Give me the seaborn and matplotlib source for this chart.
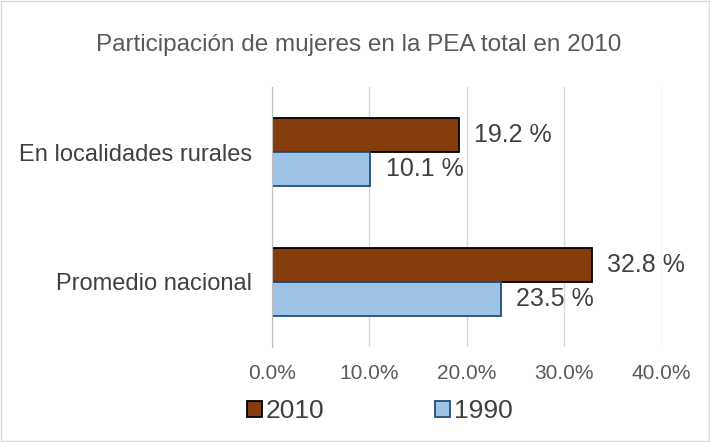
import pandas as pd
import numpy as np
import matplotlib.pyplot as plt
import seaborn as sns
from matplotlib.patches import Rectangle, Patch

# datos
categorias = ['En localidades rurales', 'Promedio nacional']
anios = ['2010', '1990']
valores_2010 = [19.2, 32.8]
valores_1990 = [10.1, 23.5]
ticks = [0, 10, 20, 30, 40]

df = pd.DataFrame({
    'categoria': categorias * 2,
    'anio': [anios[0]] * 2 + [anios[1]] * 2,
    'valor': valores_2010 + valores_1990,
})

sns.set_style('white')
plt.rcParams['font.family'] = ['Liberation Sans', 'DejaVu Sans']

colores = {'2010': '#843C0C', '1990': '#9DC3E6'}
bordes = {'2010': '#000000', '1990': '#1F4E79'}

fig = plt.figure(figsize=(7.1, 4.42), dpi=100)
ax = fig.add_axes([0.383, 0.215, 0.549, 0.588])

sns.barplot(data=df, x='valor', y='categoria', hue='anio', hue_order=anios,
            palette=colores, saturation=1, orient='h', width=0.52, ax=ax,
            legend=False)

for cont, anio in zip(ax.containers, anios):
    for barra in cont:
        barra.set_edgecolor(bordes[anio])
        barra.set_linewidth(1.3)
    ax.bar_label(cont, labels=[f'{v:.1f} %' for v in cont.datavalues],
                 padding=11, fontsize=18, color='#404040')

ax.set_xlim(0, 40)
ax.set_xticks(ticks)
ax.set_xticklabels([f'{t:.1f}%' for t in ticks], fontsize=15, color='#595959')
ax.tick_params(axis='y', labelsize=17, labelcolor='#404040', length=0, pad=14)
ax.tick_params(axis='x', length=0, pad=12)
ax.set_xlabel('')
ax.set_ylabel('')
ax.grid(axis='x', color='#D9D9D9', linewidth=1)
ax.set_axisbelow(True)
for lado in ['top', 'right', 'bottom']:
    ax.spines[lado].set_visible(False)
ax.spines['left'].set_color('#BFBFBF')

fig.text(0.505, 0.898, 'Participación de mujeres en la PEA total en 2010',
         ha='center', va='center', fontsize=17.5, color='#595959')

handles = [Patch(facecolor=colores[a], edgecolor=bordes[a], linewidth=1.3) for a in anios]
fig.legend(handles, anios, loc='center', bbox_to_anchor=(0.535, 0.07), ncol=2,
           frameon=False, fontsize=19, handlelength=0.55, handleheight=0.55,
           handletextpad=0.15, columnspacing=4.2, labelcolor='#404040')

fig.patches.append(Rectangle((0.002, 0.003), 0.996, 0.994, transform=fig.transFigure,
                             fill=False, edgecolor='#D9D9D9', linewidth=1))

fig.savefig('out.png', dpi=100)
